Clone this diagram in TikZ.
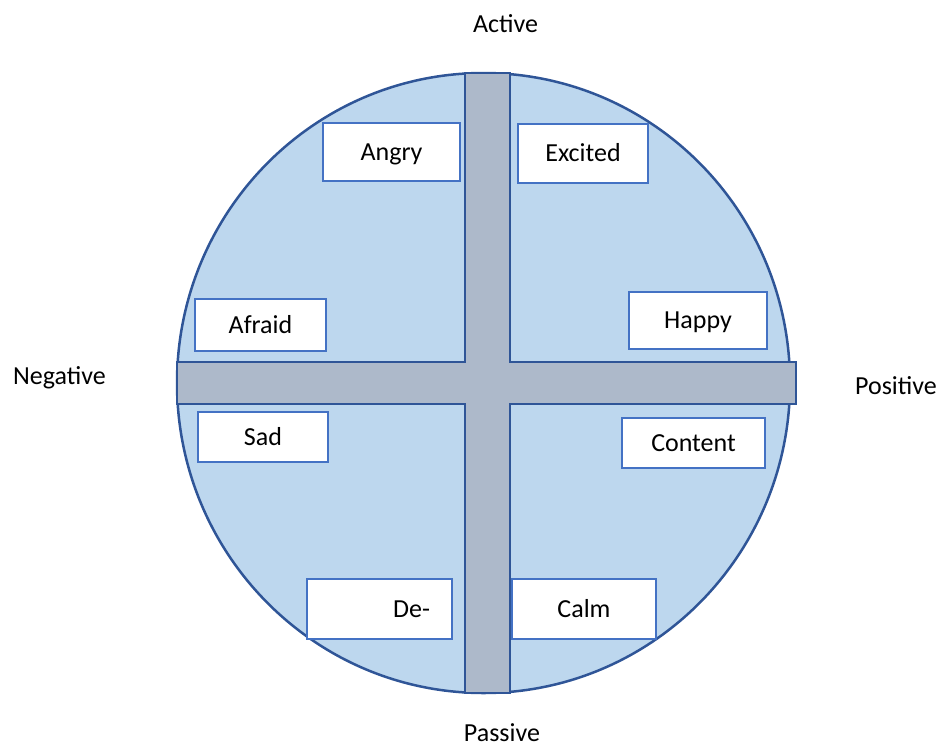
\documentclass[tikz,border=0pt]{standalone}
\usepackage{fontspec}
\setmainfont{Carlito}
\definecolor{circfill}{HTML}{BDD7EE}
\definecolor{darkline}{HTML}{2F5597}
\definecolor{barfill}{HTML}{ADB9CA}
\definecolor{boxline}{HTML}{4472C4}
\begin{document}
\begin{tikzpicture}[x=1pt,y=-1pt,
  emo/.style={draw=boxline,line width=2.3pt,fill=white,rectangle,inner sep=0pt,
    font=\fontsize{26}{31}\selectfont,text height=16.8pt,text depth=0pt},
  axislabel/.style={font=\fontsize{26}{31}\selectfont,inner sep=0pt,text height=16.8pt,text depth=0pt}]
\useasboundingbox (0,0) rectangle (941,747);
% circle
\draw[darkline,line width=2.5pt,fill=circfill] (483.5,383) ellipse [x radius=306.5,y radius=310];
% cross bars
\draw[darkline,line width=2.5pt,fill=barfill]
  (465,73) -- (510,73) -- (510,362) -- (796,362) -- (796,404) -- (510,404)
  -- (510,693) -- (465,693) -- (465,404) -- (177,404) -- (177,362) -- (465,362) -- cycle;
% emotion boxes
\node[emo,minimum width=137,minimum height=58] (angry) at (391.5,152) {Angry};
\node[emo,minimum width=130,minimum height=59] (excited) at (583,153.5) {Excited};
\node[emo,minimum width=131,minimum height=52] (afraid) at (260.5,325) {Afraid};
\node[emo,minimum width=138,minimum height=57] (happy) at (698,320.5) {Happy};
\node[emo,minimum width=130,minimum height=50] (sad) at (263,437) {Sad};
\node[emo,minimum width=143,minimum height=50] (content) at (693.5,443) {Content};
\node[emo,minimum height=60,text width=101,inner xsep=22,align=right] (de) at (379.5,609) {De-};
\node[emo,minimum width=144,minimum height=60] (calm) at (584,609) {Calm};
% axis labels
\node[axislabel] (active) at (505.5,24) {Active};
\node[axislabel] (passive) at (502,733) {Passive};
\node[axislabel] (negative) at (59.5,376) {Negative};
\node[axislabel] (positive) at (896,386) {Positive};
\end{tikzpicture}
\end{document}
